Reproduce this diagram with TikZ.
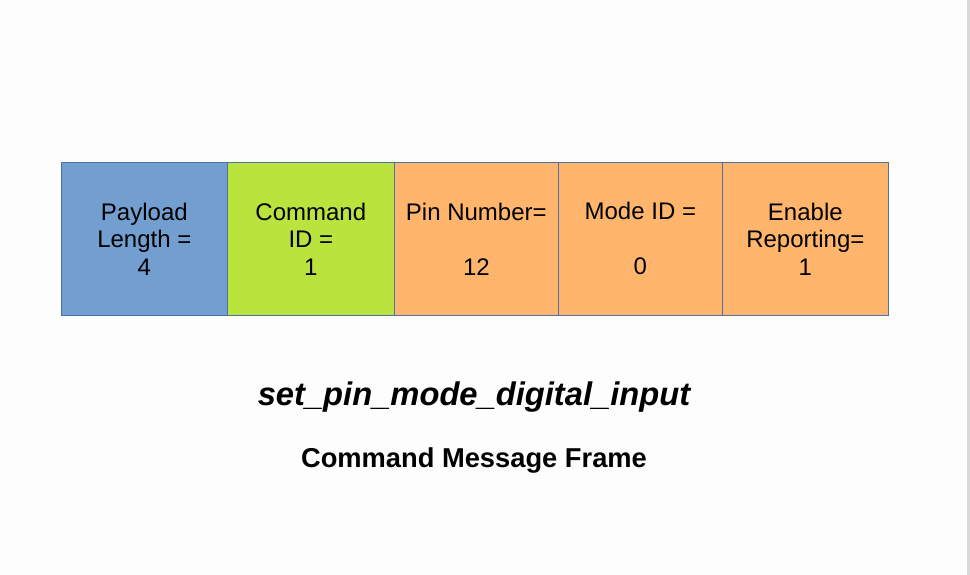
\documentclass[tikz,border=0pt]{standalone}
\usepackage{fontspec}
\setmainfont{Liberation Sans}
\definecolor{cblue}{HTML}{729FCF}
\definecolor{cgreen}{HTML}{BBE33D}
\definecolor{corange}{HTML}{FFB66C}
\definecolor{cborder}{HTML}{4A72A8}
\definecolor{bgc}{HTML}{FDFDFD}
\definecolor{edgec}{HTML}{DADADA}
\begin{document}
\begin{tikzpicture}[x=1pt,y=-1pt,
  cell/.style={draw=cborder,line width=0.7pt,anchor=north west,inner sep=0pt,
    align=center,font=\fontsize{24}{27.5}\selectfont,text=black}]
\useasboundingbox (0,0) rectangle (970,575);
\fill[bgc] (0,0) rectangle (970,575);
\fill[edgec] (967,0) rectangle (970,575);
\node[cell,fill=cblue,minimum width=166pt,minimum height=153pt] (pl) at (61,162) {Payload\\Length =\\4};
\node[cell,fill=cgreen,minimum width=167pt,minimum height=153pt] (cid) at (227,162) {Command\\ID =\\1};
\node[cell,fill=corange,minimum width=164pt,minimum height=153pt] (pin) at (394,162) {Pin Number=\\\strut\\12};
\node[cell,fill=corange,minimum width=164pt,minimum height=153pt] (mode) at (558,162) {Mode ID =\\\strut\\0};
\node[cell,fill=corange,minimum width=166pt,minimum height=153pt] (rep) at (722,162) {Enable\\Reporting=\\1};
\node[font=\fontsize{32.7}{38}\selectfont\bfseries\itshape] (title) at (474,397) {set\_pin\_mode\_digital\_input};
\node[font=\fontsize{27.3}{31}\selectfont\bfseries] (sub) at (474,460) {Command Message Frame};
\end{tikzpicture}
\end{document}
